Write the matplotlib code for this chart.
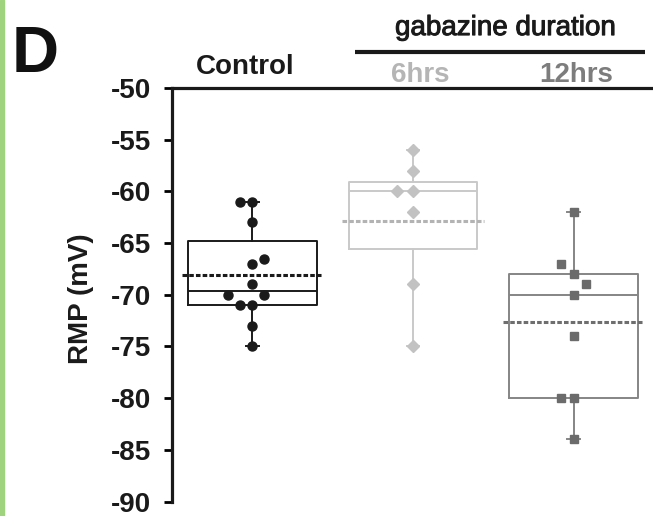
import numpy as np
import matplotlib.pyplot as plt
from matplotlib.patches import Rectangle
import matplotlib.patheffects as pe

plt.rcParams['font.family'] = ['Liberation Sans', 'DejaVu Sans']
plt.rcParams['axes.unicode_minus'] = False

# Resting membrane potential (mV)
groups = ['Control', '6hrs', '12hrs']
control = [-61, -61, -63, -66.5, -67, -69, -70, -70, -71, -71, -73, -75]
control_dx = [-0.075, 0, 0, 0.075, 0, 0, -0.15, 0.075, -0.075, 0, 0, 0]
gab6 = [-56, -58, -60, -60, -62, -69, -75]
gab6_dx = [0, 0, -0.1, 0, 0, 0, 0]
gab12 = [-62, -67, -68, -69, -70, -74, -80, -80, -84]
gab12_dx = [0, -0.077, 0, 0.075, 0, 0, -0.077, 0, 0]

# box statistics as drawn in the figure
medians = [-69.6, -60.0, -70.0]
q1s = [-71.0, -65.6, -80.0]
q3s = [-64.8, -59.1, -68.0]
whis_lo = [-75, -75, -84]
whis_hi = [-61, -56, -62]

line_colors = ['#1a1a1a', '#c9c9c9', '#858585']
marker_colors = ['#1a1a1a', '#c2c2c2', '#6b6b6b']
mean_colors = ['#1a1a1a', '#b3b3b3', '#6e6e6e']
text_colors = ['#1a1a1a', '#b5b5b5', '#7d7d7d']
markers = ['o', 'D', 's']
msizes = [6.5, 6, 5.6]

fig = plt.figure(figsize=(6.53, 5.16), dpi=100)
ax = fig.add_axes([172 / 653, 1 - 501.5 / 516, 482 / 653, 413.5 / 516])

data = [control, gab6, gab12]
offsets = [control_dx, gab6_dx, gab12_dx]

for i in range(3):
    st = [dict(med=medians[i], q1=q1s[i], q3=q3s[i],
               whislo=whis_lo[i], whishi=whis_hi[i], fliers=[])]
    c = line_colors[i]
    ax.bxp(st, positions=[i], widths=0.8, capwidths=0.08, showfliers=False,
           boxprops=dict(color=c, lw=1.4),
           whiskerprops=dict(color=c, lw=1.4),
           capprops=dict(color=c, lw=1.4),
           medianprops=dict(color=c, lw=1.4))
    # mean line
    m = np.mean(data[i])
    ax.plot([i - 0.44, i + 0.44], [m, m], color=mean_colors[i], lw=2.2,
            ls=(0, (1.5, 0.7)), zorder=4)
    xs = i + np.array(offsets[i])
    ax.plot(xs, data[i], ls='none', marker=markers[i], ms=msizes[i],
            color=marker_colors[i], mec=marker_colors[i], zorder=5)

ax.set_xlim(-0.5, 2.5)
ax.set_ylim(-90, -50)
ax.set_yticks(np.arange(-90, -49, 5))
ax.set_xticks([])
ax.tick_params(axis='y', length=6, width=2, pad=9, labelsize=20)
for lab in ax.get_yticklabels():
    lab.set_fontweight('bold')
    lab.set_color('#1a1a1a')
ax.spines['right'].set_visible(False)
ax.spines['bottom'].set_visible(False)
ax.spines['left'].set_linewidth(2.3)
ax.spines['top'].set_linewidth(2.3)
ax.spines['left'].set_color('#1a1a1a')
ax.spines['top'].set_color('#1a1a1a')

ax.text(-0.188, 0.49, 'RMP (mV)', transform=ax.transAxes, rotation=90,
        ha='center', va='center', fontsize=20, fontweight='bold', color='#1a1a1a')

# group labels above the axes
trans = ax.get_xaxis_transform()
label_x = [-0.044, 1.047, 2.016]
label_y = [1.034, 1.014, 1.014]
for i in range(3):
    ax.text(label_x[i], label_y[i], groups[i], transform=trans, ha='center',
            va='baseline', fontsize=20, fontweight='bold', color=text_colors[i])

ax.text(1.573, 1.128, 'gabazine duration', transform=trans, ha='center',
        va='baseline', fontsize=20, color='#1a1a1a',
        path_effects=[pe.withStroke(linewidth=0.7, foreground='#1a1a1a')])
ax.plot([0.636, 2.442], [1.087, 1.087], transform=trans, color='#1a1a1a',
        lw=3, clip_on=False, solid_capstyle='butt')

fig.text(12 / 653, 1 - 72 / 516, 'D', fontsize=47, fontweight='bold',
         va='baseline', ha='left', color='#111111')
fig.patches.append(Rectangle((0, 0), 4 / 653, 1, transform=fig.transFigure,
                             color='#a0d37e', zorder=0))

fig.savefig('out.png', dpi=100)
